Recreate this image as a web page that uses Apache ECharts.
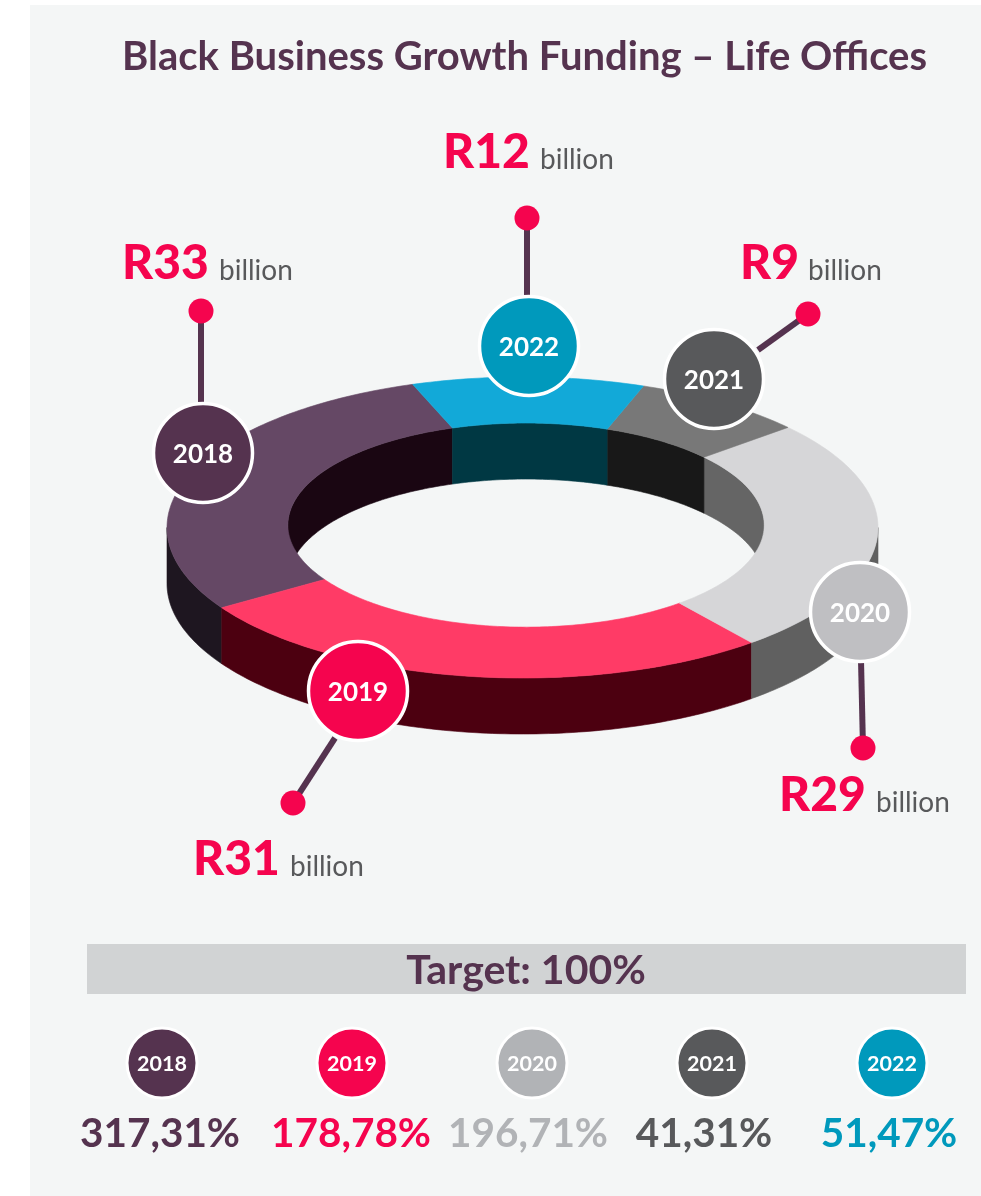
<!DOCTYPE html>
<html>
<head>
<meta charset="utf-8">
<title>Black Business Growth Funding</title>
<style>
html, body { margin: 0; padding: 0; background: #fff; }
#chart { width: 981px; height: 1196px; }
</style>
</head>
<body>
<div id="chart"></div>
<script src="https://cdn.jsdelivr.net/npm/echarts@6/dist/echarts.min.js"></script>
<script>
// chart data
var years = ["2018", "2019", "2020", "2021", "2022"];
var funding = [33, 31, 29, 9, 12];
var achieved = ["317,31%", "178,78%", "196,71%", "41,31%", "51,47%"];
var titleText = "Black Business Growth Funding \u2013 Life Offices";
var targetText = "Target: 100%";

// colours per year
var badgeColors = ["#55334f", "#f5044e", "#b1b3b6", "#58595b", "#0099bc"];
var calloutBadge = ["#55334f", "#f5044e", "#bfbfc2", "#58595b", "#0099bc"];
var topColors = ["#654865", "#ff3b66", "#d6d6d8", "#787878", "#12a9d8"];
var outerColors = ["#1e1620", "#4c0010", "#606060", "#606060", "#12a9d8"];
var innerColors = ["#1a0612", "#4c0010", "#656565", "#181818", "#003843"];
var plum = "#55334f";
var red = "#f5044e";
var grey = "#58595b";
var face = "Lato, 'Open Sans', sans-serif";

// ring geometry, in axis units (the outer ellipse fills the -1..1 grid)
var startAngle = -108;
var innerX = 0.67, innerY = 0.678;
var innerDx = 0.01, innerDy = -0.016;
var depth = 56;

// callouts: badge centre, pin centre, stem end, amount text left, billion text left, text mid y
var callouts = [
    { badge: [203, 453], pin: [201, 311], stem: [201, 403], ax: 122, bx: 219, y: 264 },
    { badge: [358, 691], pin: [293, 803], stem: [335, 738], ax: 193, bx: 290, y: 860 },
    { badge: [860, 612], pin: [863, 748], stem: [861, 660], ax: 779, bx: 876, y: 796 },
    { badge: [714, 379], pin: [808, 314], stem: [758, 350], ax: 740, bx: 808, y: 264 },
    { badge: [529, 346], pin: [527, 218], stem: [527, 296], ax: 443, bx: 540, y: 153 }
];
var legendX = [162, 352, 532, 712, 892];
var percentX = [160, 351, 528, 704, 889];

// going round the ring from the top, counter clockwise on screen
var total = funding.reduce(function(a, b) { return a + b; }, 0);
var slices = [];
var end = startAngle;
funding.forEach(function(v, i) {
    var begin = end - v / total * 360;
    slices.push([begin, end, i]);
    end = begin;
});

function pt(api, deg, rx, ry, dx, dy, down) {
    var r = deg * Math.PI / 180;
    var p = api.coord([dx + rx * Math.cos(r), dy + ry * Math.sin(r)]);
    return [p[0], p[1] + down];
}
function arc(api, a0, a1, rx, ry, dx, dy, down) {
    var out = [];
    var n = Math.max(2, Math.ceil(Math.abs(a1 - a0)));
    for (var i = 0; i <= n; i++) {
        out.push(pt(api, a0 + (a1 - a0) * i / n, rx, ry, dx, dy, down));
    }
    return out;
}
function poly(points, color) {
    return {
        type: "polygon",
        shape: { points: points },
        style: { fill: color, stroke: color, lineWidth: 0.6 }
    };
}
function renderTop(params, api) {
    var a0 = api.value(0), a1 = api.value(1), i = api.value(2);
    var pts = arc(api, a0, a1, 1, 1, 0, 0, 0)
        .concat(arc(api, a1, a0, innerX, innerY, innerDx, innerDy, 0));
    return poly(pts, topColors[i]);
}
// a wall is only drawn where the slice overlaps the visible half of its ellipse
function renderWall(rx, ry, dx, dy, lo, hi, colors) {
    return function(params, api) {
        var a0 = api.value(0), a1 = api.value(1), i = api.value(2);
        var kids = [];
        [-720, -360, 0].forEach(function(k) {
            var s = Math.max(a0, lo + k), e = Math.min(a1, hi + k);
            if (e <= s) return;
            var pts = arc(api, s, e, rx, ry, dx, dy, 0)
                .concat(arc(api, e, s, rx, ry, dx, dy, depth));
            kids.push(poly(pts, colors[i]));
        });
        return { type: "group", children: kids };
    };
}

function text(str, x, y, size, weight, color, align) {
    return {
        type: "text", z: 10,
        style: {
            text: str, x: x, y: y, fill: color,
            font: weight + " " + size + "px " + face,
            textAlign: align || "left", textVerticalAlign: "middle"
        }
    };
}
function circle(x, y, r, color, border) {
    return {
        type: "circle", z: 10,
        shape: { cx: x, cy: y, r: r },
        style: { fill: color, stroke: border ? "#fff" : null, lineWidth: border || 0 }
    };
}

var graphics = [
    { type: "rect", z: 0, shape: { x: 30, y: 5, width: 951, height: 1191 }, style: { fill: "#f4f6f6" } },
    text(titleText, 524.5, 57.5, 40, 700, plum, "center"),
    { type: "rect", z: 10, shape: { x: 87, y: 944, width: 879, height: 50 }, style: { fill: "#d1d3d4" } },
    text(targetText, 526, 971, 41, 700, plum, "center")
];
callouts.forEach(function(c, i) {
    graphics.push({
        type: "line", z: 10,
        shape: { x1: c.pin[0], y1: c.pin[1], x2: c.stem[0], y2: c.stem[1] },
        style: { stroke: plum, lineWidth: 6 }
    });
    graphics.push(circle(c.pin[0], c.pin[1], 12.5, red));
    graphics.push(circle(c.badge[0], c.badge[1], 49.5, calloutBadge[i], 3.5));
    graphics.push(text(years[i], c.badge[0], c.badge[1] + 2, 26, 700, "#fff", "center"));
    graphics.push(text("R" + funding[i], c.ax, c.y, 48, 900, red));
    graphics.push(text("billion", c.bx, c.y + 7, 28, 400, grey));
});
years.forEach(function(y, i) {
    graphics.push(circle(legendX[i], 1063, 35, badgeColors[i], 3));
    graphics.push(text(y, legendX[i], 1064, 21.5, 700, "#fff", "center"));
    graphics.push(text(achieved[i], percentX[i], 1134, 40.5, 700, badgeColors[i], "center"));
});

var myChart = echarts.init(document.getElementById("chart"), null, { renderer: "canvas" });
var enc = { x: 0, y: 1 };
myChart.setOption({
    animation: false,
    grid: { left: 167, top: 377, width: 711, height: 301 },
    xAxis: { type: "value", min: -1, max: 1, show: false },
    yAxis: { type: "value", min: -1, max: 1, show: false, inverse: true },
    graphic: graphics,
    series: [
        { type: "custom", z: 2, clip: false, encode: enc, data: slices,
          renderItem: renderWall(1, 1, 0, 0, 0, 180, outerColors) },
        { type: "custom", z: 2, clip: false, encode: enc, data: slices,
          renderItem: renderWall(innerX, innerY, innerDx, innerDy, 180, 360, innerColors) },
        { type: "custom", z: 3, clip: false, encode: enc, data: slices,
          renderItem: renderTop }
    ]
});
</script>
</body>
</html>
